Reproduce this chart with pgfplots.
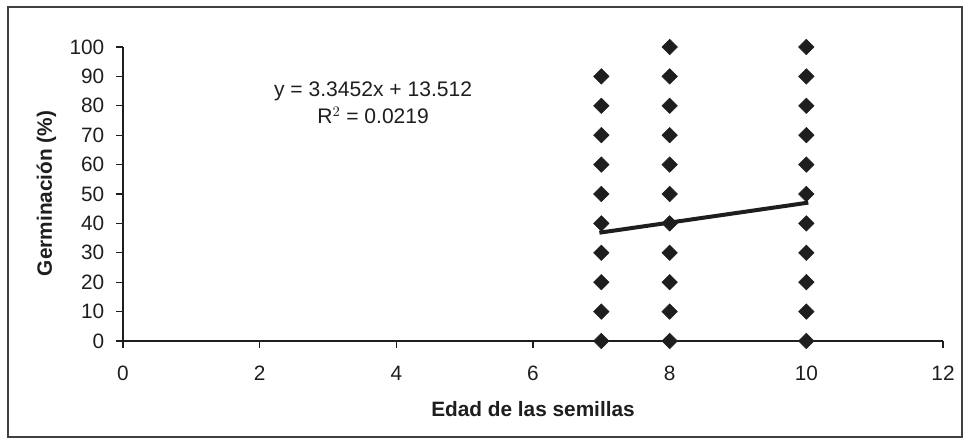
\documentclass[border=0pt]{standalone}
\usepackage{pgfplots}
\pgfplotsset{compat=1.18}
\usepackage{fontspec}
\setmainfont{Liberation Sans}
\definecolor{ink}{HTML}{1E1E1E}
\begin{document}
\begin{tikzpicture}[x=1pt,y=1pt]
% page extent and outer frame
\path (-92.25,-78) rectangle (633.75,255.75);
\draw[ink!85,line width=0.9pt] (-86.25,-72) rectangle (629.25,250.5);
\begin{axis}[
  at={(0,0)}, anchor=origin,
  scale only axis, width=615pt, height=220.5pt,
  xmin=0, xmax=12, ymin=0, ymax=100,
  xtick={0,2,...,12}, ytick={0,10,...,100},
  axis x line*=bottom, axis y line*=left,
  axis line style={ink, line width=0.8pt, -},
  tick style={ink, line width=0.8pt},
  tick align=outside, major tick length=5pt,
  every tick label/.append style={font=\fontsize{15.6}{17}\selectfont, text=ink},
  xticklabel style={yshift=-10.5pt},
  yticklabel style={xshift=-5.5pt},
  /pgf/number format/assume math mode=true,
  clip=false,
]
\addplot[only marks, mark=square*, mark size=4.1pt, ink,
  mark options={rotate=45, fill=ink, draw=ink}] coordinates {
  (7,0) (7,10) (7,20) (7,30) (7,40) (7,50) (7,60) (7,70) (7,80) (7,90)
  (8,0) (8,10) (8,20) (8,30) (8,40) (8,50) (8,60) (8,70) (8,80) (8,90) (8,100)
  (10,0) (10,10) (10,20) (10,30) (10,40) (10,50) (10,60) (10,70) (10,80) (10,90) (10,100)
};
% linear trend y = 3.3452x + 13.512
\addplot[ink, line width=3pt, line cap=rect] coordinates {
  (7,36.928) (10,46.964)
};
\node[align=center, text=ink, font=\fontsize{15.8}{20}\selectfont]
  at (axis cs:3.66,81) {y = 3.3452x + 13.512\\R$^{2}$ = 0.0219};
% axis titles
\node[text=ink, font=\bfseries\fontsize{15.6}{17}\selectfont]
  at ([yshift=-51pt]axis description cs:0.5,0) {Edad de las semillas};
\node[text=ink, rotate=90, font=\bfseries\fontsize{15.6}{17}\selectfont]
  at ([xshift=-57.5pt]axis description cs:0,0.502) {Germinación (\%)};
\end{axis}
\end{tikzpicture}
\end{document}
